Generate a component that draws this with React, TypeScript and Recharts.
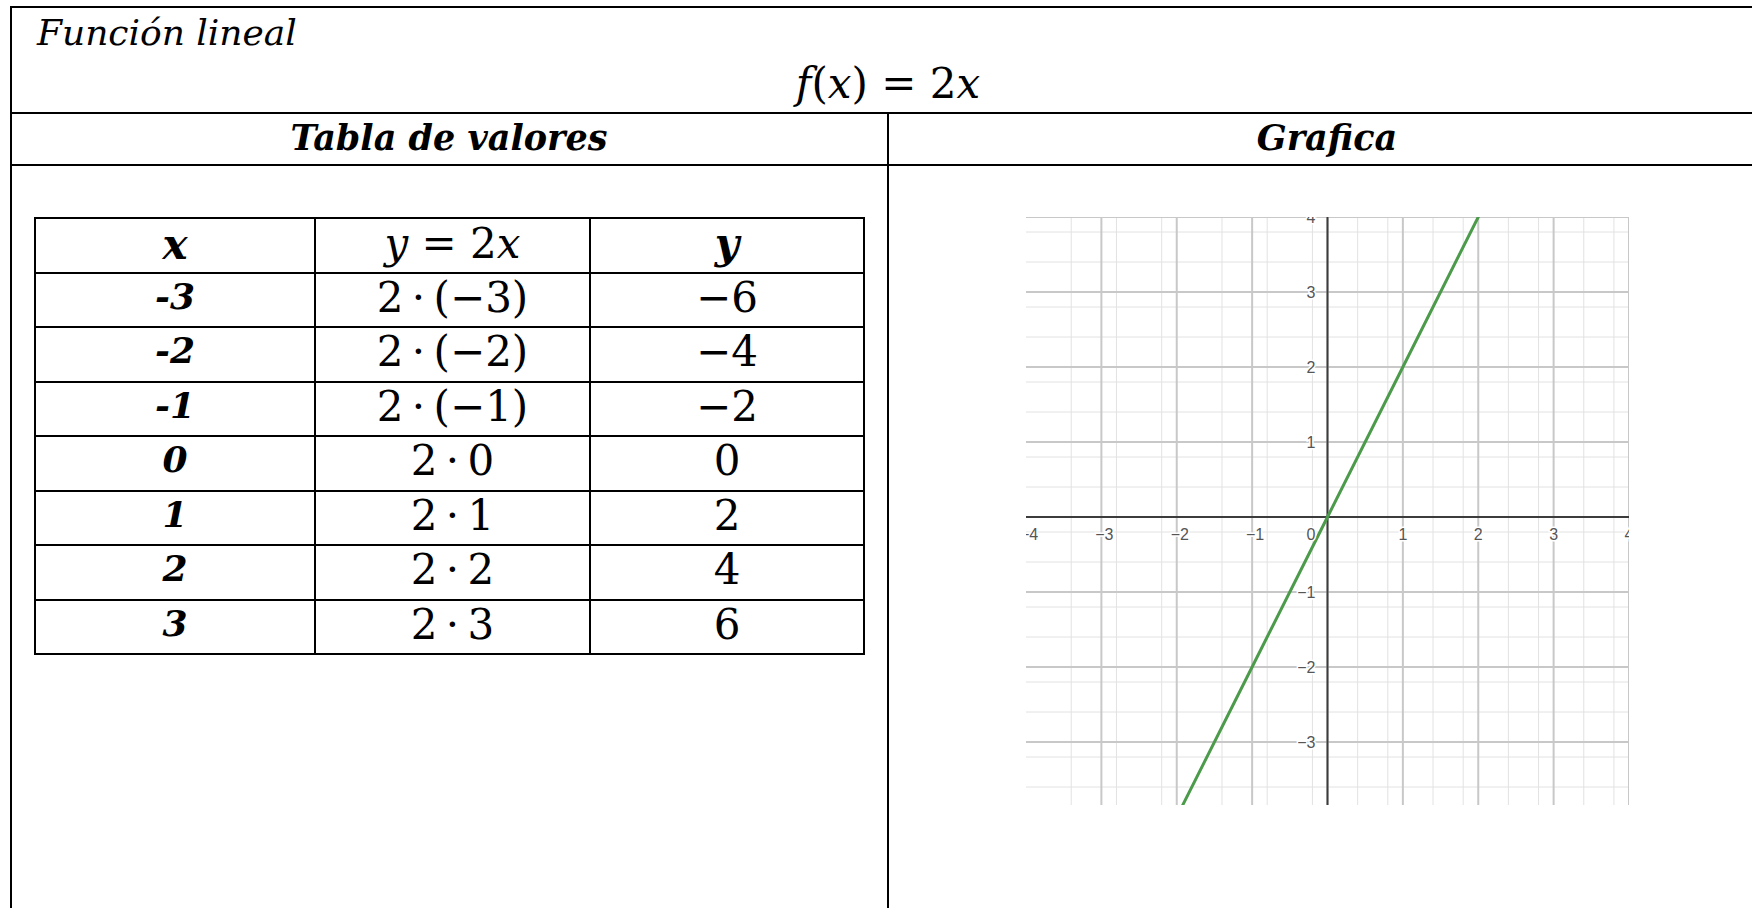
import React from 'react';
import {
  ComposedChart,
  Line,
  Scatter,
  XAxis,
  YAxis,
  CartesianGrid,
  ReferenceLine,
} from 'recharts';

// values of f(x) = 2x for the table and the plotted line
const xValues = [-3, -2, -1, 0, 1, 2, 3];
const yValues = [-6, -4, -2, 0, 2, 4, 6];

// graph window + axis labels
const xDomain: [number, number] = [-4, 4];
const yDomain: [number, number] = [-3.84, 4];
const xTickValues = [-4, -3, -2, -1, 1, 2, 3, 4];
const yTickValues = [-3, -2, -1, 1, 2, 3, 4];
const majorX = [-4, -3, -2, -1, 0, 1, 2, 3, 4];
const majorY = [-3, -2, -1, 0, 1, 2, 3, 4];

// fifth-of-a-unit grid
const minorX = Array.from({ length: 41 }, (_, i) => (i - 20) / 5).filter((v) => !Number.isInteger(v));
const minorY = Array.from({ length: 40 }, (_, i) => (i - 19) / 5).filter((v) => !Number.isInteger(v));

const lineData = xValues.map((x, i) => ({ x, y: yValues[i] }));

const minus = (v: number) => (v < 0 ? `\u2212${Math.abs(v)}` : `${v}`);

const xLabelData = xTickValues.map((v) => ({ x: v, y: 0, text: minus(v), neg: v < 0 }));
const yLabelData = yTickValues.map((v) => ({ x: 0, y: v, text: minus(v) }));
const originLabel = [{ x: 0, y: 0, text: '0' }];

const serif = '"DejaVu Serif", serif';

const labelStyle = {
  fontFamily: '"Liberation Sans", Arial, sans-serif',
  fontSize: 16,
  fill: '#555',
  stroke: '#fff',
  strokeWidth: 3,
  paintOrder: 'stroke',
} as const;

const XTickLabel = (props: any) => {
  const { cx, cy, payload } = props;
  return (
    <text x={cx + (payload.neg ? 3 : 0)} y={cy + 23} textAnchor="middle" {...labelStyle}>
      {payload.text}
    </text>
  );
};

const YTickLabel = (props: any) => {
  const { cx, cy, payload } = props;
  return (
    <text x={cx - 12} y={cy + 6} textAnchor="end" {...labelStyle}>
      {payload.text}
    </text>
  );
};

const OriginLabel = (props: any) => {
  const { cx, cy, payload } = props;
  return (
    <text x={cx - 12} y={cy + 23} textAnchor="end" {...labelStyle}>
      {payload.text}
    </text>
  );
};

const Graph: React.FC = () => (
  <ComposedChart
    width={603}
    height={588}
    data={lineData}
    margin={{ top: 0, right: 0, bottom: 0, left: 0 }}
  >
    <XAxis type="number" dataKey="x" domain={xDomain} allowDataOverflow hide />
    <YAxis type="number" dataKey="y" domain={yDomain} allowDataOverflow hide />
    <CartesianGrid verticalValues={minorX} horizontalValues={minorY} stroke="#e2e2e2" strokeWidth={1} />
    <CartesianGrid verticalValues={majorX} horizontalValues={majorY} stroke="#c8c8c8" strokeWidth={2} />
    <ReferenceLine x={0} stroke="#3c3c3c" strokeWidth={2} />
    <ReferenceLine y={0} stroke="#3c3c3c" strokeWidth={2} />
    <Scatter data={xLabelData} shape={XTickLabel} isAnimationActive={false} />
    <Scatter data={yLabelData} shape={YTickLabel} isAnimationActive={false} />
    <Scatter data={originLabel} shape={OriginLabel} isAnimationActive={false} />
    <Line
      type="linear"
      dataKey="y"
      stroke="#4b9b4b"
      strokeWidth={3}
      dot={false}
      activeDot={false}
      isAnimationActive={false}
    />
  </ComposedChart>
);

// table of values
const COLS = [280, 275, 274];
const ROW_H = 54.5;

const cell: React.CSSProperties = {
  boxSizing: 'border-box',
  borderRight: '2px solid #000',
  borderBottom: '2px solid #000',
  height: ROW_H,
  textAlign: 'center',
  whiteSpace: 'nowrap',
  overflow: 'hidden',
  color: '#000',
};

const boldCell = (size: number, lh: number): React.CSSProperties => ({
  ...cell,
  fontFamily: serif,
  fontWeight: 'bold',
  fontStyle: 'italic',
  fontSize: size,
  lineHeight: `${lh}px`,
});

const mathCell = (lh: number): React.CSSProperties => ({
  ...cell,
  fontFamily: serif,
  fontSize: 42,
  lineHeight: `${lh}px`,
});

const it = (s: string) => <span style={{ fontStyle: 'italic' }}>{s}</span>;

const ValuesTable: React.FC = () => (
  <div
    style={{
      position: 'absolute',
      left: 34,
      top: 217,
      display: 'grid',
      gridTemplateColumns: COLS.map((w) => `${w}px`).join(' '),
      gridAutoRows: `${ROW_H}px`,
      borderTop: '2px solid #000',
      borderLeft: '2px solid #000',
    }}
  >
    <div style={boldCell(42, 51)}>x</div>
    <div style={mathCell(49.5)}>
      {it('y')} = 2{it('x')}
    </div>
    <div style={boldCell(42, 49)}>y</div>
    {xValues.map((x, i) => (
      <React.Fragment key={x}>
        <div style={boldCell(36, 45.3)}>{`${x}`}</div>
        <div style={mathCell(47)}>{x < 0 ? `2\u2009\u00b7\u2009(${minus(x)})` : `2\u2009\u00b7\u2009${x}`}</div>
        <div style={mathCell(47)}>{minus(yValues[i])}</div>
      </React.Fragment>
    ))}
  </div>
);

const hLine = (top: number): React.CSSProperties => ({
  position: 'absolute',
  left: 10,
  top,
  width: 1760,
  height: 2,
  background: '#000',
});

const centered = (center: number, top: number, width: number): React.CSSProperties => ({
  position: 'absolute',
  left: center - width / 2,
  top,
  width,
  textAlign: 'center',
  whiteSpace: 'nowrap',
});

const App: React.FC = () => (
  <div style={{ position: 'relative', width: 1752, height: 908, overflow: 'hidden', background: '#fff' }}>
    <style>{'body{margin:0}'}</style>

    {/* frame */}
    <div style={hLine(6)} />
    <div style={hLine(112)} />
    <div style={hLine(164)} />
    <div style={{ position: 'absolute', left: 10, top: 6, width: 2, height: 910, background: '#000' }} />
    <div style={{ position: 'absolute', left: 887, top: 112, width: 2, height: 800, background: '#000' }} />

    <div
      style={{
        position: 'absolute',
        left: 37,
        top: 11.6,
        fontFamily: serif,
        fontStyle: 'italic',
        fontSize: 36,
        whiteSpace: 'nowrap',
      }}
    >
      Función lineal
    </div>
    <div style={{ ...centered(888, 59, 300), fontFamily: serif, fontSize: 42 }}>
      {it('f')}({it('x')}) = 2{it('x')}
    </div>

    <div style={{ ...centered(449, 116.5, 500), fontFamily: serif, fontSize: 35, fontWeight: 'bold', fontStyle: 'italic' }}>
      Tabla de valores
    </div>
    <div style={{ ...centered(1327, 116.5, 400), fontFamily: serif, fontSize: 35, fontWeight: 'bold', fontStyle: 'italic' }}>
      Grafica
    </div>

    <ValuesTable />

    <div style={{ position: 'absolute', left: 1026, top: 217 }}>
      <Graph />
    </div>
  </div>
);

export default App;
